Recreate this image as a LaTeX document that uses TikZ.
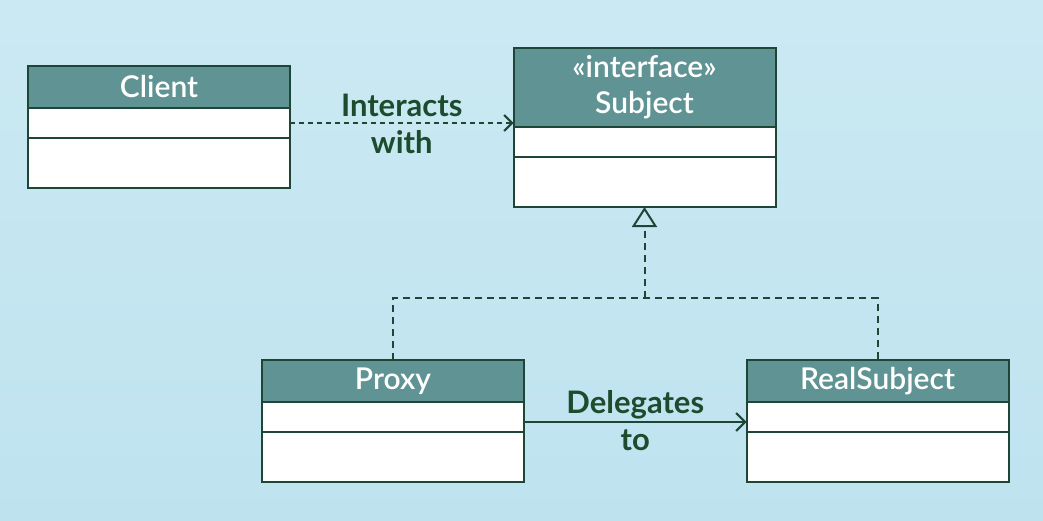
\documentclass[tikz,border=0pt]{standalone}
\usepackage{fontspec}
\setmainfont{Lato}
\newfontfamily\hdrfont{Lato Semibold}
\usetikzlibrary{arrows.meta}

\definecolor{bgblue}{RGB}{190,227,239}
\definecolor{bgtop}{RGB}{203,233,243}
\definecolor{teal}{RGB}{96,148,148}
\definecolor{edge}{RGB}{30,70,54}
\definecolor{labelgreen}{RGB}{29,75,46}

\tikzset{
  hdr/.style={draw=edge, line width=2pt, fill=teal, text=white, inner sep=0pt,
    outer sep=0pt, font=\hdrfont\fontsize{30}{36}\selectfont, align=center,
    minimum width=262pt, anchor=north},
  cmp/.style={draw=edge, line width=2pt, fill=white, inner sep=0pt,
    outer sep=0pt, minimum width=262pt, anchor=north},
  lbl/.style={text=labelgreen, font=\bfseries\fontsize{31}{37}\selectfont,
    align=center, inner sep=0pt},
  link/.style={draw=edge, line width=2pt},
  dashlink/.style={link, dash pattern=on 7pt off 5pt},
}

\begin{document}
\begin{tikzpicture}[x=1pt, y=-1pt]
  % background
  \shade[top color=bgtop, bottom color=bgblue] (0,0) rectangle (1043,520);
  \useasboundingbox (0,0) rectangle (1043,520);

  % Client
  \node[hdr, minimum height=42pt] (client-h) at (159,66) {Client};
  \node[cmp, minimum height=30pt] (client-a) at (client-h.south) {};
  \node[cmp, minimum height=50pt] (client-o) at (client-a.south) {};

  % Subject
  \node[hdr, minimum height=79pt] (subject-h) at (644.5,48) {«interface»\\Subject};
  \node[cmp, minimum height=30pt] (subject-a) at (subject-h.south) {};
  \node[cmp, minimum height=50pt] (subject-o) at (subject-a.south) {};

  % Proxy
  \node[hdr, minimum height=42pt] (proxy-h) at (393,360) {Proxy};
  \node[cmp, minimum height=30pt] (proxy-a) at (proxy-h.south) {};
  \node[cmp, minimum height=50pt] (proxy-o) at (proxy-a.south) {};

  % RealSubject
  \node[hdr, minimum height=42pt] (real-h) at (877.5,360) {RealSubject};
  \node[cmp, minimum height=30pt] (real-a) at (real-h.south) {};
  \node[cmp, minimum height=50pt] (real-o) at (real-a.south) {};

  % dependency: Client -> Subject
  \draw[dashlink, dash pattern=on 5pt off 4pt, -{Straight Barb[length=8pt, width=16pt, line width=2pt]}]
    (client-a.east) -- (client-a.east -| subject-h.west)
    node[lbl, midway, yshift=-1pt] {Interacts\\with};

  % realization: Proxy, RealSubject -> Subject
  \coordinate (join) at (subject-o.south |- 0,298);
  \draw[dashlink] (proxy-h.north) |- (join) -| (real-h.north);
  \draw[dashlink, -{Triangle[open, length=20pt, width=25pt, line width=2pt]}]
    (join) -- (subject-o.south);

  % association: Proxy -> RealSubject
  \draw[link, -{Straight Barb[length=9pt, width=18pt, line width=2pt]}]
    ([yshift=-5pt]proxy-a.east) -- ([yshift=-5pt]real-a.west)
    node[lbl, midway, yshift=1pt] {Delegates\\to};
\end{tikzpicture}
\end{document}
